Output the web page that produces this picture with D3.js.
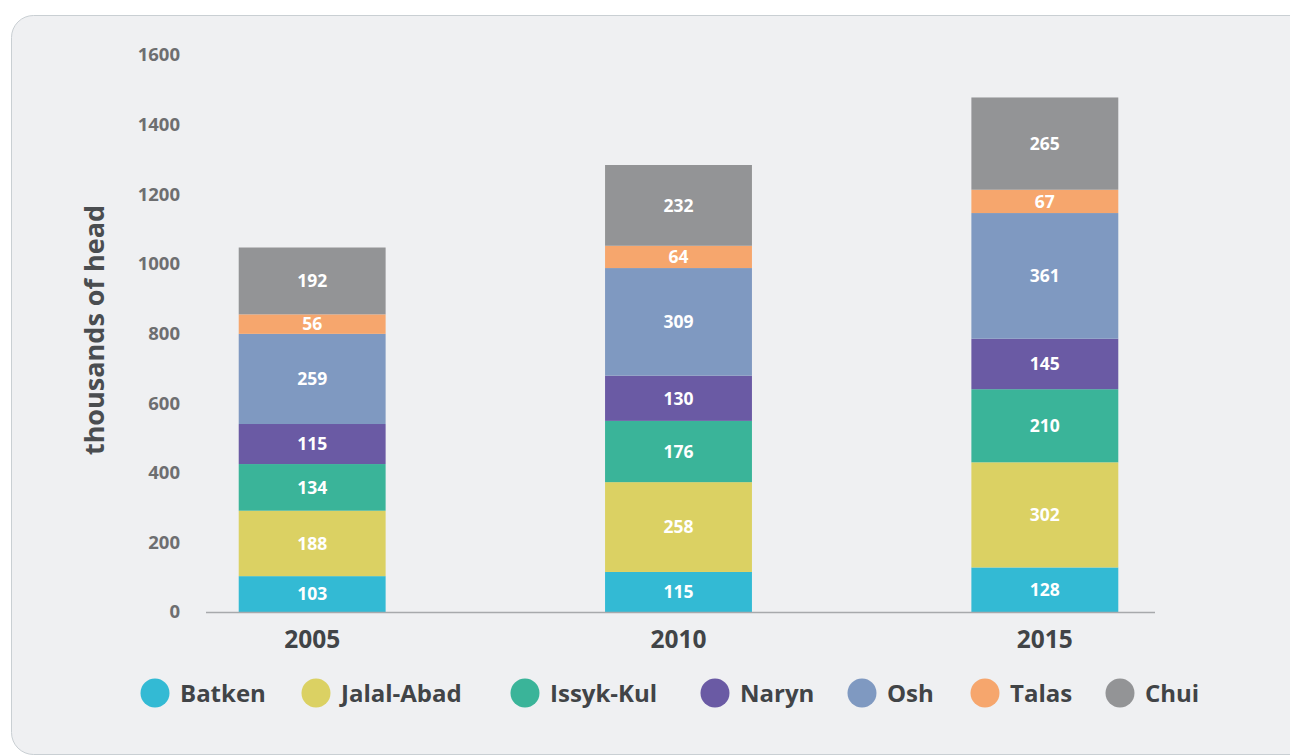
<!DOCTYPE html>
<html>
<head>
<meta charset="utf-8">
<script src="https://cdn.jsdelivr.net/npm/d3@7"></script>
<style>
  html, body { margin: 0; padding: 0; background: #fff; }
  svg { display: block; font-family: "Open Sans", "DejaVu Sans", sans-serif; }
</style>
</head>
<body>
<svg width="1290" height="756"></svg>
<script>
const years = ["2005", "2010", "2015"];
const regions = ["Batken", "Jalal-Abad", "Issyk-Kul", "Naryn", "Osh", "Talas", "Chui"];
const colors = ["#33bad4", "#dbd163", "#3ab499", "#6a5aa4", "#7f99c1", "#f6a66d", "#939496"];

const batken = [103, 115, 128];
const jalalAbad = [188, 258, 302];
const issykKul = [134, 176, 210];
const naryn = [115, 130, 145];
const osh = [259, 309, 361];
const talas = [56, 64, 67];
const chui = [192, 232, 265];

const yTicks = [0, 200, 400, 600, 800, 1000, 1200, 1400, 1600];

const seriesValues = [batken, jalalAbad, issykKul, naryn, osh, talas, chui];
const rows = years.map((y, i) => {
    const r = { year: y };
    regions.forEach((name, k) => r[name] = seriesValues[k][i]);
    return r;
});
const stacked = d3.stack().keys(regions)(rows);

const svg = d3.select("svg");

// panel
svg.append("rect")
    .attr("x", 11.5).attr("y", 15.5)
    .attr("width", 1310).attr("height", 739)
    .attr("rx", 22)
    .attr("fill", "#eff0f2")
    .attr("stroke", "#c9cfd3");

const x = d3.scaleBand().domain(years).range([129, 1228])
    .paddingInner(0.599).paddingOuter(0.2995);
const y = d3.scaleLinear().domain([0, 1600]).range([612, 55]);

// y tick labels
svg.append("g").selectAll("text")
    .data(yTicks)
    .join("text")
    .attr("x", 180)
    .attr("y", d => y(d))
    .attr("dy", "0.35em")
    .attr("text-anchor", "end")
    .attr("fill", "#6d6e70")
    .attr("font-size", 18.5)
    .attr("font-weight", 700)
    .text(d => d);

// y label
svg.append("text")
    .attr("transform", "translate(104,330) rotate(-90)")
    .attr("text-anchor", "middle")
    .attr("fill", "#4a4d50")
    .attr("font-size", 27)
    .attr("font-weight", 700)
    .text("thousands of head");

// bars
const layer = svg.append("g").selectAll("g")
    .data(stacked)
    .join("g")
    .attr("fill", (d, i) => colors[i]);

layer.selectAll("rect")
    .data(d => d.map(p => ({ p, key: d.key })))
    .join("rect")
    .attr("x", d => x(d.p.data.year))
    .attr("width", x.bandwidth())
    .attr("y", d => y(d.p[1]))
    .attr("height", d => y(d.p[0]) - y(d.p[1]));

layer.selectAll("text")
    .data(d => d.map(p => ({ p, key: d.key })))
    .join("text")
    .attr("x", d => x(d.p.data.year) + x.bandwidth() / 2)
    .attr("y", d => (y(d.p[0]) + y(d.p[1])) / 2)
    .attr("dy", "0.36em")
    .attr("text-anchor", "middle")
    .attr("fill", "#fff")
    .attr("font-size", 17.5)
    .attr("font-weight", 700)
    .text(d => d.p[1] - d.p[0]);

// baseline
svg.append("line")
    .attr("x1", 206).attr("x2", 1155)
    .attr("y1", y(0) + 0.5).attr("y2", y(0) + 0.5)
    .attr("stroke", "#a7a9ac")
    .attr("stroke-width", 1.5);

// year labels
svg.append("g").selectAll("text")
    .data(years)
    .join("text")
    .attr("x", d => x(d) + x.bandwidth() / 2)
    .attr("y", 648)
    .attr("text-anchor", "middle")
    .attr("fill", "#414447")
    .attr("font-size", 24.5)
    .attr("font-weight", 700)
    .text(d => d);

// legend
const legendX = [155, 316, 525, 715, 862, 985, 1120];
const legend = svg.append("g").selectAll("g")
    .data(regions)
    .join("g")
    .attr("transform", (d, i) => `translate(${legendX[i]},693)`);
legend.append("circle")
    .attr("r", 14.5)
    .attr("fill", (d, i) => colors[i]);
legend.append("text")
    .attr("x", 25)
    .attr("dy", "0.36em")
    .attr("fill", "#414447")
    .attr("font-size", 24)
    .attr("font-weight", 700)
    .text(d => d);
</script>
</body>
</html>
